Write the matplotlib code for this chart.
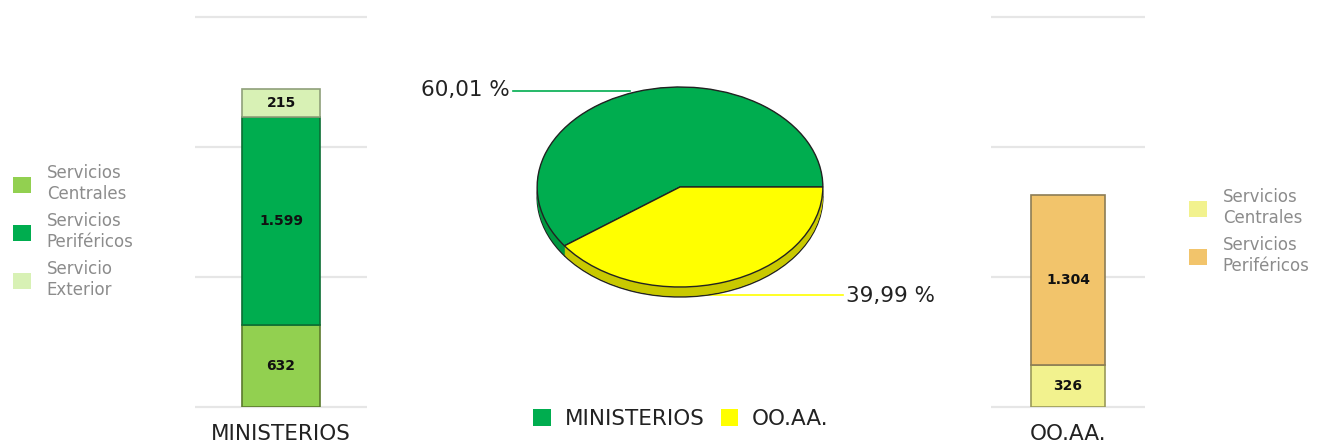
import matplotlib.pyplot as plt
from matplotlib.patches import Patch
import numpy as np

# data
min_series = ['Servicios\nCentrales', 'Servicios\nPeriféricos', 'Servicio\nExterior']
min_values = [632, 1599, 215]
ooaa_series = ['Servicios\nCentrales', 'Servicios\nPeriféricos']
ooaa_values = [326, 1304]
groups = ['MINISTERIOS', 'OO.AA.']

# colours
min_colors = ['#92d050', '#00ad4f', '#d8f1b5']
min_edges = ['#5b7a2e', '#0b6e34', '#8fa07a']
ooaa_colors = ['#f2f28e', '#f2c46b']
ooaa_edges = ['#9a9a5a', '#8c7d55']
pie_colors = ['#00ad4f', '#ffff00']
pie_sides = ['#00973f', '#c9c900']
grid_color = '#e6e6e6'

W, H = 1322, 442
fig = plt.figure(figsize=(W / 100, H / 100), dpi=100)


def px_axes(x0, y0, x1, y1):
    return fig.add_axes([x0 / W, 1 - y1 / H, (x1 - x0) / W, (y1 - y0) / H])


def fmt_es(v):
    return f'{v:,}'.replace(',', '.')


def stacked_bar(ax, label, values, colors, edges, width):
    ax.set_xlim(-0.5, 0.5)
    ax.set_ylim(0, 3000)
    ticks = [0, 1000, 2000, 3000]
    ax.hlines(ticks, -0.5, 0.5, color=grid_color, lw=1.6, clip_on=False, zorder=0)
    bottom = 0
    for v, c, e in zip(values, colors, edges):
        bars = ax.bar(0, v, width, bottom=bottom, color=c, edgecolor=e, linewidth=1.2, zorder=2)
        ax.bar_label(bars, labels=[fmt_es(v)], label_type='center',
                     fontsize=10, fontweight='bold', color='#111111')
        bottom += v
    for s in ax.spines.values():
        s.set_visible(False)
    ax.set_yticks([])
    ax.set_xticks([0])
    ax.set_xticklabels([label], fontsize=15.5, color='#222222')
    ax.tick_params(axis='x', length=0, pad=12)


ax1 = px_axes(195, 17, 367, 407)
stacked_bar(ax1, groups[0], min_values, min_colors, min_edges, 0.45)

ax2 = px_axes(991, 17, 1145, 407)
stacked_bar(ax2, groups[1], ooaa_values, ooaa_colors, ooaa_edges, 0.48)

# pie (tilted, with a thin side)
totals = [sum(min_values), sum(ooaa_values)]
shares = [100 * t / sum(totals) for t in totals]

axp = px_axes(480, 47, 880, 327)
depth = 0.1
offsets = np.linspace(depth, 0, 12)
for i, off in enumerate(offsets):
    lw = 1.0 if i == 0 else 0
    axp.pie(shares, colors=pie_sides, startangle=0, counterclock=True,
            center=(0, -off), wedgeprops=dict(edgecolor='#222222', linewidth=lw))
axp.pie(shares, colors=pie_colors, startangle=0, counterclock=True,
        wedgeprops=dict(edgecolor='#222222', linewidth=1.0))
axp.set_aspect('auto')
axp.set_xlim(-1.4, 1.4)
axp.set_ylim(-1.4, 1.4)

lab = [f'{s:.2f} %'.replace('.', ',') for s in shares]
axp.plot([-1.17, -0.35], [0.96, 0.96], color=pie_colors[0], lw=1.2, zorder=0)
axp.text(-1.19, 0.975, lab[0], ha='right', va='center', fontsize=15.5, color='#222222')
axp.plot([0.14, 1.14], [-1.08, -1.08], color=pie_colors[1], lw=1.2, zorder=0)
axp.text(1.165, -1.09, lab[1], ha='left', va='center', fontsize=15.5, color='#222222')

# legends
small = dict(fontsize=12, labelcolor='#8c8c8c', frameon=False, borderpad=0,
             borderaxespad=0, handlelength=1.08, handleheight=1.08,
             handletextpad=0.95, labelspacing=0.55, loc='upper left')
h1 = [Patch(facecolor=c, edgecolor='none') for c in min_colors]
fig.legend(h1, min_series, bbox_to_anchor=(13 / W, 1 - 164 / H), **small)
h2 = [Patch(facecolor=c, edgecolor='none') for c in ooaa_colors]
fig.legend(h2, ooaa_series, bbox_to_anchor=(1189 / W, 1 - 188 / H), **small)

hp = [Patch(facecolor=c, edgecolor='none') for c in pie_colors]
fig.legend(hp, groups, loc='center', bbox_to_anchor=(681 / W, 1 - 419 / H),
           ncol=2, frameon=False, fontsize=15.5, labelcolor='#222222',
           handlelength=0.8, handleheight=0.8, handletextpad=0.65,
           columnspacing=0.75, borderpad=0, borderaxespad=0)

fig.savefig('out.png', dpi=100)
